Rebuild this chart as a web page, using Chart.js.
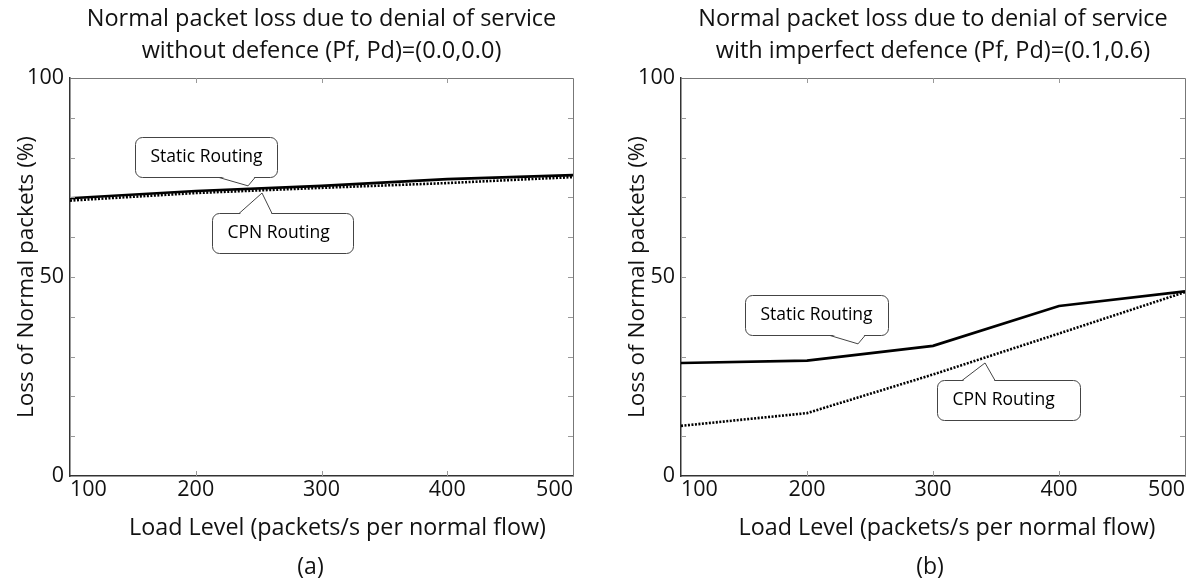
<!DOCTYPE html>
<html>
<head>
<meta charset="utf-8">
<script src="https://cdn.jsdelivr.net/npm/chart.js@4.4.1/dist/chart.umd.min.js"></script>
<style>
html, body { margin: 0; padding: 0; background: #fff; overflow: hidden; }
#wrap { position: relative; width: 1202px; height: 581px; }
.pane { position: absolute; top: 0; width: 601px; height: 581px; }
</style>
</head>
<body>
<div id="wrap">
  <div class="pane" style="left:0"><canvas id="chartA" width="601" height="581"></canvas></div>
  <div class="pane" style="left:601px"><canvas id="chartB" width="601" height="581"></canvas></div>
</div>
<script>
var FONT = '"Open Sans", "DejaVu Sans", sans-serif';

// data
var loadLevels = [100, 200, 300, 400, 500];
var staticA = [69.8, 71.6, 72.9, 74.6, 75.6];
var cpnA    = [69.2, 71.1, 72.4, 73.6, 75.1];
var staticB = [28.4, 29.0, 32.7, 42.7, 46.4];
var cpnB    = [12.6, 15.8, 25.5, 35.8, 46.2];
var yTickLabels = [0, 50, 100];

var titleA = ['Normal packet loss due to denial of service', 'without defence (Pf, Pd)=(0.0,0.0)'];
var titleB = ['Normal packet loss due to denial of service', 'with imperfect defence (Pf, Pd)=(0.1,0.6)'];
var xTitle = 'Load Level (packets/s per normal flow)';
var yTitle = 'Loss of Normal packets (%)';

function points(vals) {
  return loadLevels.map(function (x, i) { return { x: x, y: vals[i] }; });
}

// box around the plot + small inward ticks
var framePlugin = {
  id: 'frame',
  afterDatasetsDraw: function (chart) {
    var a = chart.chartArea, ctx = chart.ctx, xs = chart.scales.x, ys = chart.scales.y;
    ctx.save();
    ctx.lineWidth = 1;
    ctx.strokeStyle = '#777';
    ctx.beginPath();
    ctx.moveTo(a.left, a.top + 0.5); ctx.lineTo(a.right + 0.5, a.top + 0.5);
    ctx.lineTo(a.right + 0.5, a.bottom);
    ctx.stroke();
    ctx.strokeStyle = '#999';
    ctx.beginPath();
    ys.ticks.forEach(function (t) {
      if (t.value <= 0 || t.value >= 100) return;
      var p = Math.round(ys.getPixelForValue(t.value)) + 0.5;
      ctx.moveTo(a.left, p); ctx.lineTo(a.left + 5, p);
      ctx.moveTo(a.right, p); ctx.lineTo(a.right - 5, p);
    });
    xs.ticks.forEach(function (t) {
      if (t.value <= 100 || t.value >= 500) return;
      var p = Math.round(xs.getPixelForValue(t.value)) + 0.5;
      ctx.moveTo(p, a.bottom); ctx.lineTo(p, a.bottom - 5);
      ctx.moveTo(p, a.top); ctx.lineTo(p, a.top + 5);
    });
    ctx.stroke();
    ctx.restore();
  }
};

function roundBox(ctx, x, y, w, h, r) {
  ctx.beginPath();
  ctx.moveTo(x + r, y);
  ctx.arcTo(x + w, y, x + w, y + h, r);
  ctx.arcTo(x + w, y + h, x, y + h, r);
  ctx.arcTo(x, y + h, x, y, r);
  ctx.arcTo(x, y, x + w, y, r);
  ctx.closePath();
}

// speech-bubble labels pointing at a spot on the lines
var calloutPlugin = {
  id: 'callouts',
  afterDraw: function (chart, args, opts) {
    var ctx = chart.ctx, xs = chart.scales.x, ys = chart.scales.y;
    (opts.items || []).forEach(function (c) {
      var tx = xs.getPixelForValue(c.x), ty = ys.getPixelForValue(c.y);
      var L = Math.round(tx + c.dx) + 0.5, T = Math.round(ty + c.dy) + 0.5;
      ctx.save();
      ctx.fillStyle = '#fff';
      ctx.strokeStyle = '#444';
      ctx.lineWidth = 1;
      roundBox(ctx, L, T, c.w, c.h, 7);
      ctx.fill();
      ctx.stroke();
      var ey = c.side === 'bottom' ? T + c.h : T;
      var inset = c.side === 'bottom' ? -1.2 : 1.2;
      ctx.beginPath();
      ctx.moveTo(tx + c.b1, ey + inset);
      ctx.lineTo(tx, ty);
      ctx.lineTo(tx + c.b2, ey + inset);
      ctx.closePath();
      ctx.fill();
      ctx.beginPath();
      ctx.moveTo(tx + c.b1, ey);
      ctx.lineTo(tx, ty);
      ctx.lineTo(tx + c.b2, ey);
      ctx.stroke();
      ctx.fillStyle = '#000';
      ctx.font = '17.5px ' + FONT;
      ctx.textAlign = 'left';
      ctx.textBaseline = 'middle';
      ctx.fillText(c.text, L + 15, T + c.h / 2);
      ctx.restore();
    });
  }
};

// titles above and captions below, centred on the plot area
var captionPlugin = {
  id: 'captions',
  afterDraw: function (chart, args, opts) {
    var ctx = chart.ctx, a = chart.chartArea, mid = (a.left + a.right) / 2;
    ctx.save();
    ctx.fillStyle = '#111';
    ctx.textAlign = 'center';
    ctx.textBaseline = 'middle';
    (opts.lines || []).forEach(function (l) {
      ctx.font = l.size + 'px ' + FONT;
      ctx.fillText(l.text, mid + (l.dx || 0), l.y);
    });
    ctx.restore();
  }
};

function makeChart(id, title, tag, staticVals, cpnVals, axisW, padRight, yTitlePad, xdx, tagdx, callouts) {
  return new Chart(document.getElementById(id), {
    type: 'line',
    data: {
      datasets: [
        { label: 'CPN Routing', data: points(cpnVals), borderColor: '#000', borderWidth: 2.6,
          borderDash: [2, 1.5], pointRadius: 0, tension: 0, fill: false },
        { label: 'Static Routing', data: points(staticVals), borderColor: '#000', borderWidth: 2.6,
          pointRadius: 0, tension: 0, fill: false }
      ]
    },
    options: {
      responsive: false,
      animation: false,
      layout: { padding: { left: 0, right: padRight, top: 78, bottom: 0 } },
      plugins: {
        legend: { display: false },
        tooltip: { enabled: false },
        title: { display: false },
        callouts: { items: callouts },
        captions: {
          lines: [
            { text: title[0], y: 19, size: 23.5 },
            { text: title[1], y: 51, size: 23.5 },
            { text: xTitle, y: 528, size: 23.3, dx: xdx },
            { text: tag, y: 567, size: 23, dx: tagdx }
          ]
        }
      },
      scales: {
        x: {
          type: 'linear', min: 100, max: 500,
          grid: { drawOnChartArea: false, drawTicks: false },
          border: { color: '#333', width: 1.5 },
          ticks: { stepSize: 100, align: 'inner', padding: 1, color: '#111',
                   font: { family: FONT, size: 21.5 }, maxRotation: 0 },
          afterFit: function (s) { s.height = 105; }
        },
        y: {
          min: 0, max: 100,
          grid: { drawOnChartArea: false, drawTicks: false },
          border: { color: '#333', width: 1.5 },
          ticks: {
            stepSize: 10, autoSkip: false, padding: 6, color: '#111',
            font: { family: FONT, size: 21.5 },
            callback: function (v) { return yTickLabels.indexOf(v) >= 0 ? String(v) : ''; }
          },
          title: { display: true, text: yTitle, color: '#111',
                   font: { family: FONT, size: 22.5 }, padding: { top: yTitlePad, bottom: 0 } },
          afterFit: function (s) { s.width = axisW; }
        }
      }
    },
    plugins: [framePlugin, calloutPlugin, captionPlugin]
  });
}

makeChart('chartA', titleA, '(a)', staticA, cpnA, 70, 28, 13, 16, -11, [
  { text: 'Static Routing', x: 241.6, y: 72.9, dx: -113, dy: -49, w: 142, h: 40, b1: -29, b2: 7, side: 'bottom' },
  { text: 'CPN Routing', x: 252.7, y: 71.1, dx: -50, dy: 20, w: 141, h: 40, b1: -23, b2: 10, side: 'top' }
]);
makeChart('chartB', titleB, '(b)', staticB, cpnB, 80, 17, 23, 14, -3, [
  { text: 'Static Routing', x: 240.5, y: 33.2, dx: -113, dy: -49, w: 143, h: 40, b1: -28, b2: 7, side: 'bottom' },
  { text: 'CPN Routing', x: 341.3, y: 28.4, dx: -48, dy: 17, w: 143, h: 40, b1: -23, b2: 10, side: 'top' }
]);
</script>
</body>
</html>
